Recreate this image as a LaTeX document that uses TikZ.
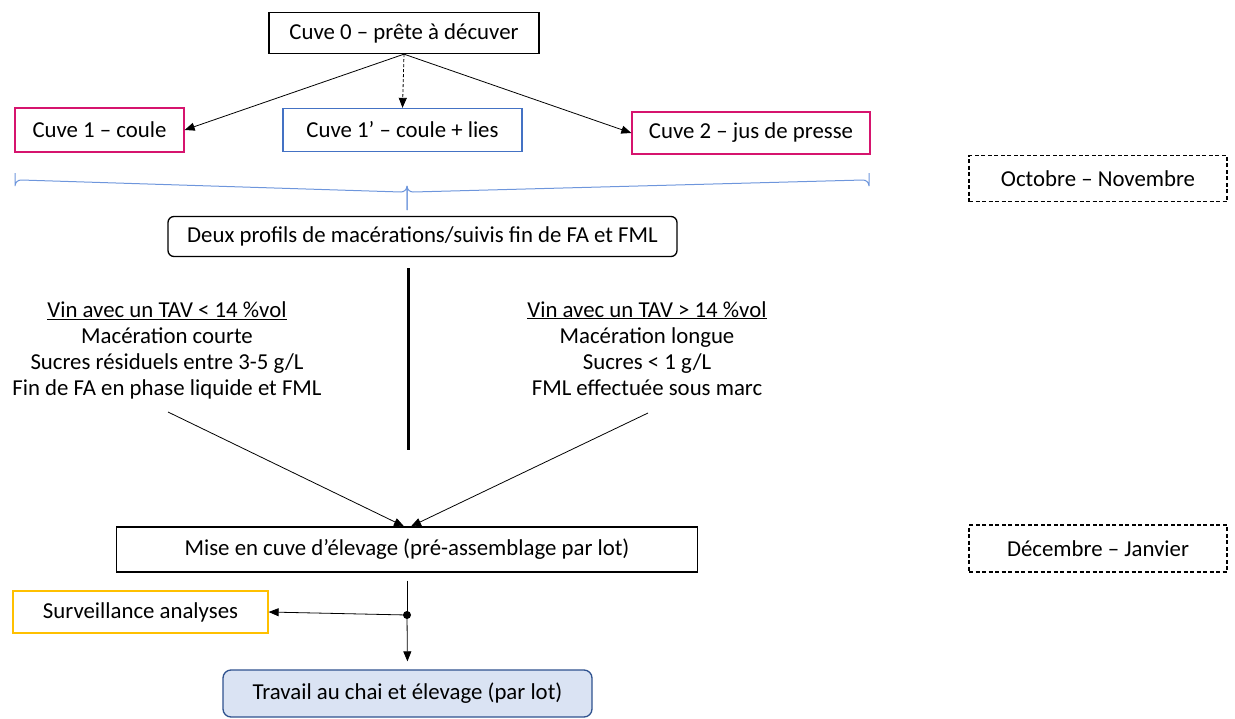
\documentclass[tikz,border=0pt]{standalone}
\usepackage{fontspec}
\setmainfont{Carlito}
\usetikzlibrary{arrows.meta}
\definecolor{magentab}{RGB}{214,20,110}
\definecolor{blueb}{RGB}{68,114,196}
\definecolor{braceb}{RGB}{110,150,220}
\definecolor{yellowb}{RGB}{255,192,0}
\definecolor{travfill}{RGB}{218,227,243}
\definecolor{travdraw}{RGB}{47,82,143}
\newcommand\mytightlines{\lineskiplimit-100pt\relax}
\tikzset{
  box/.style={draw, line width=1.3pt, inner sep=0pt, align=center, font=\fontsize{22.8}{26}\selectfont},
  dashbox/.style={box, dashed, dash pattern=on 4pt off 2.5pt, line width=1.5pt},
  txt/.style={inner sep=0pt, align=center, font=\fontsize{22.8}{26.2}\selectfont\mytightlines},
  arr/.style={-{Triangle[length=10pt,width=8pt]}, line width=0.8pt},
}
\begin{document}
\begin{tikzpicture}[x=1pt,y=-1pt]
\useasboundingbox (0,0) rectangle (1235,718);
% top row
\node[box, minimum width=270pt, minimum height=41pt] (c0) at (404,33) {Cuve 0 – prête à décuver};
\node[box, draw=magentab, minimum width=169pt, minimum height=44pt] (c1) at (99.5,130) {Cuve 1 – coule};
\node[box, draw=blueb, minimum width=239pt, minimum height=43pt] (c1p) at (402.5,130) {Cuve 1’ – coule + lies};
\node[box, draw=magentab, minimum width=238pt, minimum height=42pt] (c2) at (751,133) {Cuve 2 – jus de presse};
\draw[arr] (c0.south) -- (c1.east);
\draw[arr, dashed, dash pattern=on 3pt off 2pt] (c0.south) -- (c1p.north);
\draw[arr] (c0.south) -- (c2.west);
% brace
\draw[braceb, line width=1pt] (15,173) -- (15,186) arc[start angle=180, end angle=270, radius=6] -- (401,192) arc[start angle=90, end angle=0, radius=6] -- (407,210);
\draw[braceb, line width=1pt] (869,173) -- (869,186) arc[start angle=0, end angle=-90, radius=6] -- (413,192) arc[start angle=90, end angle=180, radius=6] -- (407,210);
\node[dashbox, minimum width=258pt, minimum height=46pt] (oct) at (1098,178.5) {Octobre – Novembre};
% profiles
\node[box, rounded corners=6pt, minimum width=509pt, minimum height=40pt] (deux) at (422.5,236.5) {Deux profils de macérations/suivis fin de FA et FML};
\coordinate (tA) at (408,268);
\coordinate (tB) at (408,450);
\draw[line width=3pt] (tA) -- (tB);
\node[txt] (left) at (167,350.5) {\underline{Vin avec un TAV < 14 \%vol}\\Macération courte\\Sucres résiduels entre 3-5 g/L\\Fin de FA en phase liquide et FML};
\node[txt] (right) at (647,348.5) {\underline{Vin avec un TAV > 14 \%vol}\\Macération longue\\Sucres < 1 g/L\\FML effectuée sous marc};
\node[box, minimum width=581pt, minimum height=45pt] (mise) at (407,549.5) {Mise en cuve d’élevage (pré-assemblage par lot)};
\coordinate (la) at (168,412);
\coordinate (ra) at (648,413);
\draw[arr] (la) -- ([xshift=-3pt]mise.north);
\draw[arr] (ra) -- ([xshift=4pt]mise.north);
\node[dashbox, minimum width=258pt, minimum height=47pt] (dec) at (1098,548.5) {Décembre – Janvier};
% bottom
\node[circle, fill=black, inner sep=0pt, minimum size=8pt] (dot) at (407,615) {};
\node[box, draw=yellowb, minimum width=255pt, minimum height=42pt] (surv) at (140.5,612) {Surveillance analyses};
\node[box, draw=travdraw, fill=travfill, rounded corners=8pt, minimum width=369pt, minimum height=47pt] (trav) at (407.5,693.5) {Travail au chai et élevage (par lot)};
\draw[line width=0.8pt, shorten <=8pt] (mise.south) -- (dot.center);
\draw[arr, shorten >=8pt] (dot.center) -- (trav.north);
\draw[arr] (dot.center) -- (surv.east);
\end{tikzpicture}
\end{document}
